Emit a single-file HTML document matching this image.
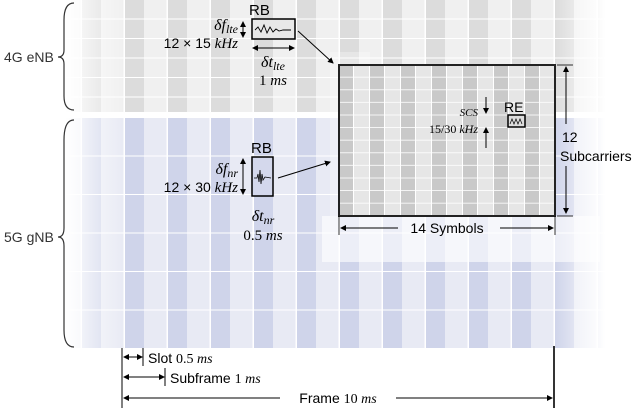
<!DOCTYPE html>
<html><head><meta charset="utf-8"><style>
body{margin:0;background:#fff}
svg{display:block;font-family:"Liberation Sans",sans-serif}
.m{font-family:"Liberation Serif",serif;font-style:italic}
.s{font-family:"Liberation Serif",serif}
</style></head><body>
<svg width="640" height="408" viewBox="0 0 640 408" xmlns="http://www.w3.org/2000/svg">
<defs>
<marker id="a" markerWidth="6" markerHeight="6" refX="5" refY="3" orient="auto"><path d="M0,0L6,3L0,6z" fill="#000"/></marker>
<marker id="b" markerWidth="6" markerHeight="6" refX="1" refY="3" orient="auto"><path d="M6,0L0,3L6,6z" fill="#000"/></marker>
<linearGradient id="fl" x1="0" x2="1"><stop offset="0" stop-color="#fff" stop-opacity="1"/><stop offset="1" stop-color="#fff" stop-opacity="0"/></linearGradient>
<linearGradient id="fr" x1="0" x2="1"><stop offset="0" stop-color="#fff" stop-opacity="0"/><stop offset="1" stop-color="#fff" stop-opacity="1"/></linearGradient>
<pattern id="g4" x="125" y="0" width="43" height="19.5" patternUnits="userSpaceOnUse">
<rect width="43" height="19.5" fill="#f0f0f0"/><rect width="19" height="19.5" fill="#dcdcdc"/><rect y="18.5" width="43" height="1" fill="#fff"/><rect x="41.5" width="1.5" height="19.5" fill="#fff"/></pattern>
<pattern id="g5" x="125" y="118" width="43" height="38.5" patternUnits="userSpaceOnUse">
<rect width="43" height="38.5" fill="#e8eaf4"/><rect width="19" height="38.5" fill="#cfd4ea"/><rect y="37.5" width="43" height="1" fill="#fff"/><rect x="41.5" width="1.5" height="38.5" fill="#fff"/></pattern>
<pattern id="gb" x="339" y="65" width="31" height="12.6" patternUnits="userSpaceOnUse">
<rect width="31" height="12.6" fill="#e6e6e6"/><rect width="14" height="12.6" fill="#c9c9c9"/><rect y="11.8" width="31" height="0.8" fill="#fff"/><rect x="14" width="1" height="12.6" fill="#fff"/><rect x="30" width="1" height="12.6" fill="#fff"/></pattern>
</defs>
<rect x="65" y="0" width="540" height="112" fill="url(#g4)"/>
<rect x="65" y="118" width="540" height="230" fill="url(#g5)"/>
<rect x="65" y="0" width="60" height="348" fill="url(#fl)"/>
<rect x="555" y="0" width="50" height="348" fill="url(#fr)"/>
<rect x="322" y="216" width="278" height="46" fill="#fff" opacity="0.6"/>
<rect x="330" y="52" width="40" height="164" fill="#fff" opacity="0.3"/>
<rect x="339" y="65" width="216" height="151" fill="url(#gb)" stroke="#222" stroke-width="2"/>
<!-- braces -->
<path d="M74,3 Q64,3 64,20 L64,50 Q64,57 58,57 Q64,57 64,64 L64,96 Q64,110 74,110" fill="none" stroke="#333" stroke-width="1.2"/>
<path d="M74,120 Q64,120 64,140 L64,228 Q64,237 58,237 Q64,237 64,246 L64,330 Q64,347 74,347" fill="none" stroke="#333" stroke-width="1.2"/>
<text x="4" y="62" font-size="14" fill="#333">4G eNB</text>
<text x="4" y="242" font-size="14" fill="#333">5G gNB</text>
<!-- 4G RB -->
<text x="249" y="15" font-size="15">RB</text>
<rect x="252" y="19" width="43" height="20" fill="#e8e8e8" stroke="#000" stroke-width="1.5"/>
<path d="M255,30 l3,-3 3,5 3,-7 3,8 3,-6 3,5 3,-3 3,2 4,-1 8,0" fill="none" stroke="#000" stroke-width="0.9"/>
<text x="238" y="30" font-size="16" text-anchor="end" class="m">δf<tspan font-size="12" dy="3">lte</tspan></text>
<text x="238" y="48" font-size="14" text-anchor="end">12 × 15 <tspan class="m" font-size="15">kHz</tspan></text>
<line x1="243" y1="22" x2="243" y2="37" stroke="#000" marker-end="url(#a)" marker-start="url(#b)"/>
<line x1="253" y1="48" x2="294" y2="48" stroke="#000" marker-end="url(#a)" marker-start="url(#b)"/>
<text x="273" y="67" font-size="16" text-anchor="middle" class="m">δt<tspan font-size="12" dy="3">lte</tspan></text>
<text x="273" y="85" font-size="15" text-anchor="middle" class="s">1 <tspan class="m">ms</tspan></text>
<line x1="298" y1="31" x2="333" y2="63" stroke="#000" marker-end="url(#a)"/>
<!-- 5G RB -->
<text x="251" y="153" font-size="15">RB</text>
<rect x="252" y="157" width="21" height="39" fill="#d4d8ec" stroke="#000" stroke-width="1.5"/>
<path d="M254,178 l3,0 1,-4 1,8 1,-12 1,14 1,-10 1,6 2,-3 6,1" fill="none" stroke="#000" stroke-width="0.8"/>
<text x="238" y="174" font-size="16" text-anchor="end" class="m">δf<tspan font-size="12" dy="3">nr</tspan></text>
<text x="238" y="192" font-size="14" text-anchor="end">12 × 30 <tspan class="m" font-size="15">kHz</tspan></text>
<line x1="243" y1="159" x2="243" y2="194" stroke="#000" marker-end="url(#a)" marker-start="url(#b)"/>
<text x="263" y="221" font-size="16" text-anchor="middle" class="m">δt<tspan font-size="12" dy="3">nr</tspan></text>
<text x="263" y="240" font-size="15" text-anchor="middle" class="s">0.5 <tspan class="m">ms</tspan></text>
<line x1="278" y1="178" x2="330" y2="162" stroke="#000" marker-end="url(#a)"/>
<!-- inside box -->
<text x="478" y="116" font-size="11" text-anchor="end" class="m">SCS</text>
<line x1="486" y1="97" x2="486" y2="113" stroke="#000" marker-end="url(#a)"/>
<text x="478" y="133" font-size="12" text-anchor="end" class="s">15/30 <tspan class="m">kHz</tspan></text>
<line x1="486" y1="148" x2="486" y2="128" stroke="#000" marker-end="url(#a)"/>
<text x="504" y="112" font-size="14">RE</text>
<rect x="508" y="115" width="17" height="12" fill="#ddd" stroke="#000" stroke-width="1.5"/>
<path d="M510,124 l2,-5 2,5 2,-5 2,5 2,-5 2,5" fill="none" stroke="#000" stroke-width="0.7"/>
<!-- 12 subcarriers -->
<line x1="566" y1="124" x2="566" y2="67" stroke="#000" marker-end="url(#a)"/>
<line x1="566" y1="166" x2="566" y2="213" stroke="#000" marker-end="url(#a)"/>
<line x1="557" y1="65" x2="573" y2="65" stroke="#000" stroke-width="0.8"/>
<line x1="557" y1="216" x2="573" y2="216" stroke="#000" stroke-width="0.8"/>
<text x="562" y="142" font-size="14">12</text>
<text x="560" y="161" font-size="14">Subcarriers</text>
<!-- 14 symbols -->
<line x1="339" y1="216" x2="339" y2="235" stroke="#000" stroke-width="0.8"/>
<line x1="555" y1="216" x2="555" y2="235" stroke="#000" stroke-width="0.8"/>
<line x1="398" y1="228" x2="341" y2="228" stroke="#000" marker-end="url(#a)"/>
<line x1="500" y1="228" x2="553" y2="228" stroke="#000" marker-end="url(#a)"/>
<text x="447" y="233" font-size="14" text-anchor="middle">14 Symbols</text>
<!-- bottom -->
<line x1="122" y1="348" x2="122" y2="408" stroke="#000" stroke-width="1"/>
<line x1="554" y1="346" x2="554" y2="408" stroke="#000" stroke-width="1.6"/>
<line x1="124" y1="357" x2="142" y2="357" stroke="#000" marker-end="url(#a)" marker-start="url(#b)"/>
<line x1="143" y1="348" x2="143" y2="366" stroke="#000"/>
<text x="148" y="363" font-size="14">Slot <tspan class="s">0.5 </tspan><tspan class="m">ms</tspan></text>
<line x1="124" y1="377" x2="164" y2="377" stroke="#000" marker-end="url(#a)" marker-start="url(#b)"/>
<line x1="165" y1="368" x2="165" y2="386" stroke="#000"/>
<text x="170" y="383" font-size="14">Subframe <tspan class="s">1 </tspan><tspan class="m">ms</tspan></text>
<line x1="280" y1="398" x2="124" y2="398" stroke="#000" marker-end="url(#a)"/>
<line x1="396" y1="398" x2="552" y2="398" stroke="#000" marker-end="url(#a)"/>
<text x="338" y="403" font-size="14" text-anchor="middle">Frame <tspan class="s">10 </tspan><tspan class="m">ms</tspan></text>
</svg>
</body></html>
